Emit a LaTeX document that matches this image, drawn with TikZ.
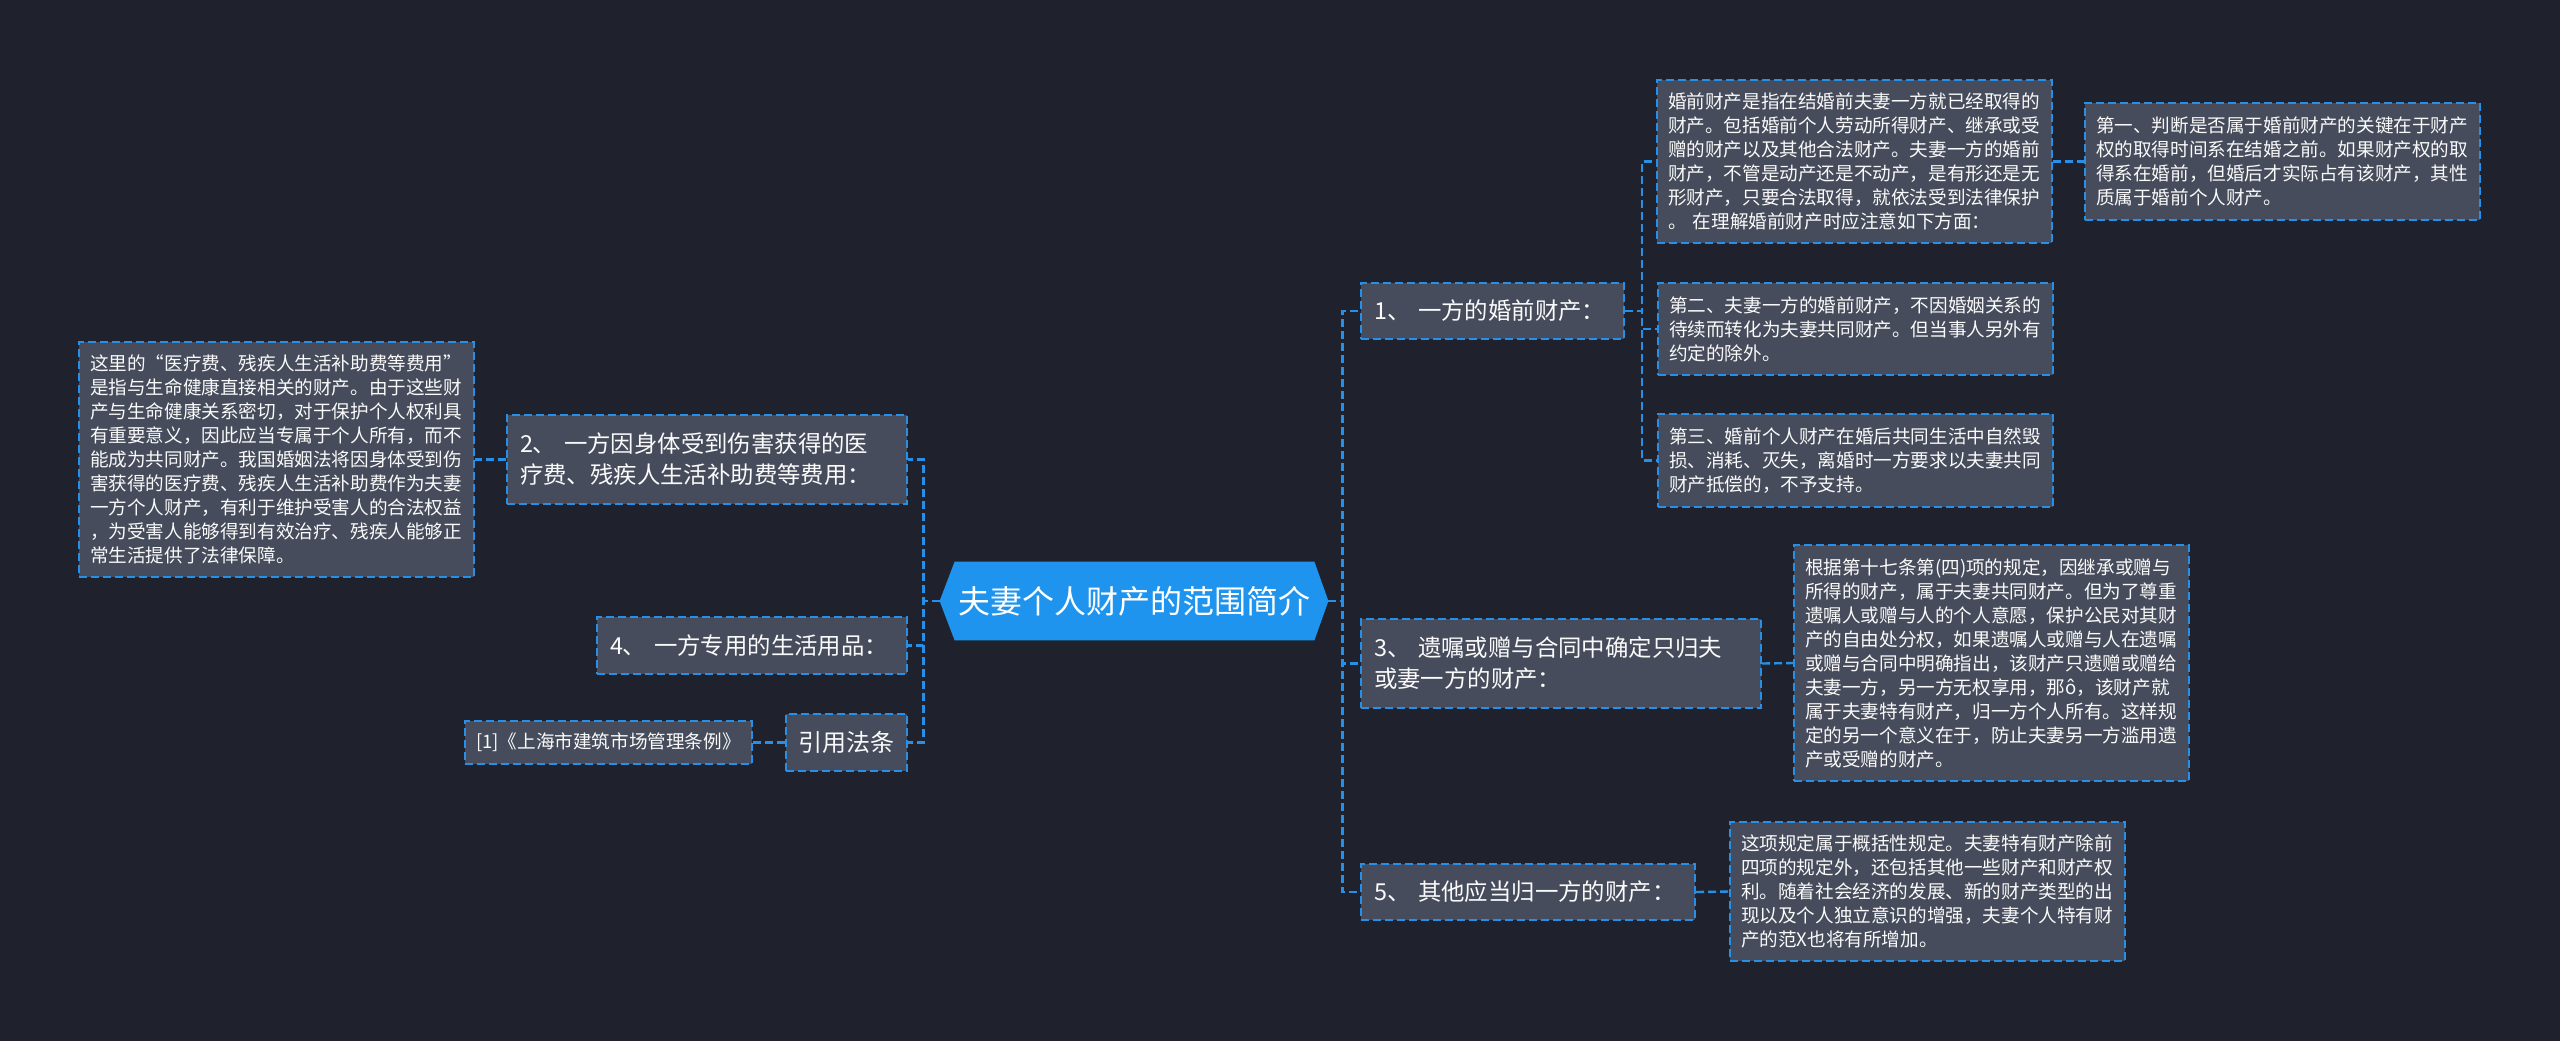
\documentclass[tikz,border=0pt]{standalone}
\usepackage{fontspec}
\setmainfont{Noto Sans CJK SC}
\usetikzlibrary{backgrounds}
\definecolor{bgc}{RGB}{31,34,44}
\definecolor{boxc}{RGB}{70,76,91}
\definecolor{linec}{RGB}{38,144,232}
\definecolor{centc}{RGB}{30,148,238}
\definecolor{txtc}{RGB}{250,250,250}
\tikzset{
  base/.style={draw=linec, line width=1.2pt, dash pattern=on 4pt off 2pt, fill=boxc, text=txtc, align=left, inner ysep=0pt, anchor=center},
  sbox/.style={base, inner xsep=5.5pt, font=\fontsize{9.3pt}{12pt}\selectfont},
  mbox/.style={base, inner xsep=6.5pt, font=\fontsize{11.7pt}{15.5pt}\selectfont},
  conn/.style={draw=linec, line width=1.2pt, dash pattern=on 4pt off 2pt},
  centbox/.style={text=white, inner sep=0pt, minimum width=194pt, minimum height=39pt, font=\fontsize{16pt}{19pt}\selectfont},
}
\begin{document}
\begin{tikzpicture}[x=0.5pt,y=-0.5pt]
\useasboundingbox (0,0) rectangle (2560,1041);
% center
\node[centbox] (c) at (1134,601) {夫妻个人财产的范围简介};
\begin{scope}[on background layer]
  \fill[bgc] (0,0) rectangle (2560,1041);
  \fill[centc] (c.west) -- ([xshift=7.5pt]c.north west) -- ([xshift=-7pt]c.north east) -- (c.east) -- ([xshift=-7pt]c.south east) -- ([xshift=7.5pt]c.south west) -- cycle;
\end{scope}
% right branch
\node[mbox, minimum width=131.5pt, minimum height=28pt, text width=118.5pt] (n1) at (1492.5,311) {1、 一方的婚前财产：};
\node[sbox, minimum width=197.5pt, minimum height=81.5pt, text width=186.5pt] (A) at (1854.5,161.5) {婚前财产是指在结婚前夫妻一方就已经取得的\\财产。包括婚前个人劳动所得财产、继承或受\\赠的财产以及其他合法财产。夫妻一方的婚前\\财产，不管是动产还是不动产，是有形还是无\\形财产，只要合法取得，就依法受到法律保护\\。 在理解婚前财产时应注意如下方面：};
\node[sbox, minimum width=197.5pt, minimum height=58.5pt, text width=186.5pt] (F1) at (2282.5,161.5) {第一、判断是否属于婚前财产的关键在于财产\\权的取得时间系在结婚之前。如果财产权的取\\得系在婚前，但婚后才实际占有该财产，其性\\质属于婚前个人财产。};
\node[sbox, minimum width=197.5pt, minimum height=46pt, text width=186.5pt] (F2) at (1855.5,329) {第二、夫妻一方的婚前财产，不因婚姻关系的\\待续而转化为夫妻共同财产。但当事人另外有\\约定的除外。};
\node[sbox, minimum width=197.5pt, minimum height=46.5pt, text width=186.5pt] (F3) at (1855.5,460.5) {第三、婚前个人财产在婚后共同生活中自然毁\\损、消耗、灭失，离婚时一方要求以夫妻共同\\财产抵偿的，不予支持。};
\node[mbox, minimum width=200pt, minimum height=44.5pt, text width=187pt] (n3) at (1561,663.5) {3、 遗嘱或赠与合同中确定只归夫\\或妻一方的财产：};
\node[sbox, minimum width=197.5pt, minimum height=118pt, text width=186.5pt] (n3c) at (1991.5,663) {根据第十七条第(四)项的规定，因继承或赠与\\所得的财产，属于夫妻共同财产。但为了尊重\\遗嘱人或赠与人的个人意愿，保护公民对其财\\产的自由处分权，如果遗嘱人或赠与人在遗嘱\\或赠与合同中明确指出，该财产只遗赠或赠给\\夫妻一方，另一方无权享用，那ô，该财产就\\属于夫妻特有财产，归一方个人所有。这样规\\定的另一个意义在于，防止夫妻另一方滥用遗\\产或受赠的财产。};
\node[mbox, minimum width=167pt, minimum height=28pt, text width=154pt] (n5) at (1528,892) {5、 其他应当归一方的财产：};
\node[sbox, minimum width=197.5pt, minimum height=69.5pt, text width=186.5pt] (n5c) at (1927.5,891.5) {这项规定属于概括性规定。夫妻特有财产除前\\四项的规定外，还包括其他一些财产和财产权\\利。随着社会经济的发展、新的财产类型的出\\现以及个人独立意识的增强，夫妻个人特有财\\产的范X也将有所增加。};
% left branch
\node[mbox, minimum width=200pt, minimum height=44.5pt, text width=187pt] (n2) at (707,459.5) {2、 一方因身体受到伤害获得的医\\疗费、残疾人生活补助费等费用：};
\node[sbox, minimum width=197.5pt, minimum height=117.5pt, text width=186.5pt] (n2c) at (276.5,459.5) {这里的“医疗费、残疾人生活补助费等费用”\\是指与生命健康直接相关的财产。由于这些财\\产与生命健康关系密切，对于保护个人权利具\\有重要意义，因此应当专属于个人所有，而不\\能成为共同财产。我国婚姻法将因身体受到伤\\害获得的医疗费、残疾人生活补助费作为夫妻\\一方个人财产，有利于维护受害人的合法权益\\，为受害人能够得到有效治疗、残疾人能够正\\常生活提供了法律保障。};
\node[mbox, minimum width=155pt, minimum height=28.5pt, text width=142pt] (n4) at (752,645.5) {4、 一方专用的生活用品：};
\node[mbox, inner xsep=6pt, minimum width=60.5pt, minimum height=28.5pt, text width=48.5pt, font=\fontsize{12pt}{15pt}\selectfont] (law) at (846.5,742.5) {引用法条};
\node[sbox, minimum width=143.5pt, minimum height=21.5pt, text width=132.5pt] (ref) at (608.5,742.5) {[1]《上海市建筑市场管理条例》};
% connectors
\draw[conn] (c.east) -- ++(7pt,0) |- (n1.west);
\draw[conn] (c.east) -- ++(7pt,0) |- (n3.west);
\draw[conn] (c.east) -- ++(7pt,0) |- (n5.west);
\draw[conn] (n1.east) -- ++(8.5pt,0) |- (A.west);
\draw[conn] (n1.east) -- ++(8.5pt,0) |- (F2.west);
\draw[conn] (n1.east) -- ++(8.5pt,0) |- (F3.west);
\draw[conn] (A.east) -- (F1.west);
\draw[conn] (n3.east) -- (n3c.west);
\draw[conn] (n5.east) -- (n5c.west);
\draw[conn] (c.west) -- ++(-8pt,0) |- (n2.east);
\draw[conn] (c.west) -- ++(-8pt,0) |- (n4.east);
\draw[conn] (c.west) -- ++(-8pt,0) |- (law.east);
\draw[conn] (n2.west) -- (n2c.east);
\draw[conn] (law.west) -- (ref.east);
\end{tikzpicture}
\end{document}
